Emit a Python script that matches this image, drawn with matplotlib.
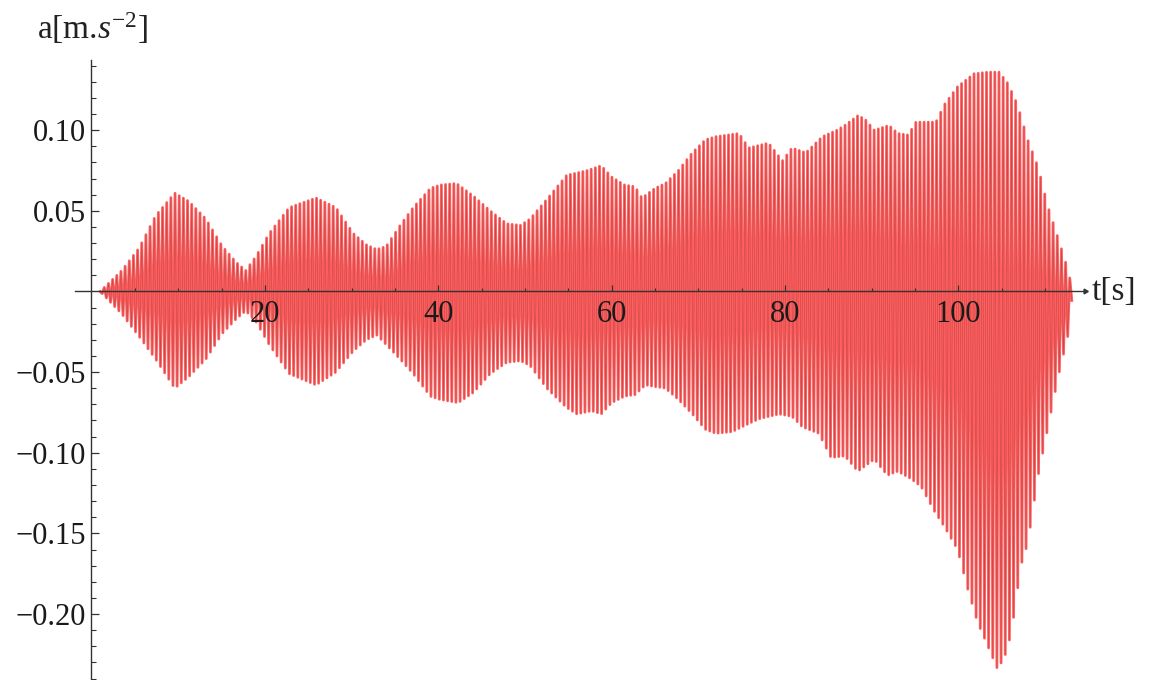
import numpy as np
import matplotlib
matplotlib.use("Agg")
import matplotlib.pyplot as plt

# Envelope of the acceleration record: time [s] and upper / lower peak values [m/s^2]
t_upper = [1.0, 3.5, 5.5, 7.4, 9.6, 11.2, 13.2, 15.1, 16.7, 17.8, 19.0, 20.5, 22.8,
           25.9, 28.2, 30.2, 31.7, 32.9, 34.0, 35.6, 37.1, 39.1, 40.2, 42.1, 44.1,
           46.0, 47.9, 49.5, 50.6, 52.5, 54.8, 57.2, 58.8, 60.0, 61.5, 62.7, 63.5,
           65.0, 66.2, 67.7, 69.3, 70.8, 72.0, 74.7, 75.8, 78.1, 79.7, 80.8, 82.4,
           84.3, 86.0, 86.9, 88.4, 89.2, 90.3, 92.0, 93.0, 94.2, 95.1, 97.4, 98.4,
           99.9, 101.8, 103.4, 104.7, 105.7, 106.8, 108.0, 109.2, 110.3, 111.5,
           112.6, 113.2]
a_upper = [0.0, 0.013, 0.027, 0.047, 0.061, 0.056, 0.045, 0.028, 0.018, 0.013,
           0.022, 0.036, 0.052, 0.058, 0.052, 0.036, 0.029, 0.026, 0.028, 0.041,
           0.052, 0.064, 0.066, 0.067, 0.059, 0.050, 0.042, 0.041, 0.045, 0.057,
           0.072, 0.075, 0.078, 0.071, 0.066, 0.065, 0.058, 0.064, 0.067, 0.075,
           0.086, 0.094, 0.096, 0.098, 0.089, 0.092, 0.081, 0.089, 0.086, 0.096,
           0.100, 0.103, 0.109, 0.107, 0.100, 0.103, 0.098, 0.097, 0.105, 0.105,
           0.116, 0.127, 0.135, 0.136, 0.136, 0.129, 0.116, 0.094, 0.077, 0.053,
           0.033, 0.014, 0.0]

t_lower = [1.0, 3.5, 5.5, 7.4, 9.6, 11.2, 13.2, 15.1, 16.7, 17.8, 19.0, 20.5, 22.8,
           25.9, 28.2, 30.2, 31.7, 32.9, 34.0, 35.6, 37.1, 39.1, 40.2, 42.3, 44.1,
           46.0, 47.9, 49.5, 50.6, 52.5, 54.8, 56.0, 57.7, 58.8, 60.0, 61.5, 62.7,
           63.9, 65.0, 66.2, 67.7, 69.3, 70.8, 72.0, 73.9, 75.4, 77.0, 79.3, 80.8,
           82.0, 83.9, 85.3, 86.9, 88.4, 90.3, 91.8, 93.0, 94.5, 95.7, 97.2, 98.4,
           99.9, 101.1, 102.2, 103.4, 104.5, 105.3, 106.1, 107.2, 108.0, 109.2,
           110.3, 111.5, 112.6, 113.2]
a_lower = [0.0, -0.014, -0.028, -0.042, -0.060, -0.053, -0.042, -0.026, -0.017,
           -0.012, -0.019, -0.033, -0.051, -0.058, -0.050, -0.037, -0.030, -0.027,
           -0.033, -0.042, -0.051, -0.065, -0.067, -0.069, -0.0625, -0.051, -0.044,
           -0.043, -0.046, -0.060, -0.072, -0.076, -0.074, -0.076, -0.069, -0.065,
           -0.064, -0.058, -0.059, -0.060, -0.067, -0.076, -0.0855, -0.088, -0.087,
           -0.083, -0.079, -0.076, -0.0775, -0.084, -0.088, -0.103, -0.102, -0.1115,
           -0.104, -0.114, -0.1115, -0.116, -0.121, -0.136, -0.146, -0.160, -0.185,
           -0.205, -0.220, -0.234, -0.227, -0.212, -0.170, -0.156, -0.114, -0.085,
           -0.053, -0.028, 0.0]

# Oscillation period of the record [s]
period = 0.48

x_major = [20, 40, 60, 80, 100]
y_major = [-0.20, -0.15, -0.10, -0.05, 0.05, 0.10]

# Peak-to-peak trace: alternate upper and lower extremes every half period
t_start, t_end = t_upper[0], t_upper[-1]
t_peaks = np.arange(t_start, t_end, period / 2)
up = np.interp(t_peaks, t_upper, a_upper)
lo = np.interp(t_peaks, t_lower, a_lower)
trace = np.where(np.arange(len(t_peaks)) % 2 == 0, up, lo)

plt.rcParams['font.family'] = ['Liberation Serif', 'DejaVu Serif']
plt.rcParams['mathtext.fontset'] = 'custom'
plt.rcParams['mathtext.rm'] = 'Liberation Serif'
plt.rcParams['mathtext.it'] = 'Liberation Serif:italic'

fig = plt.figure(figsize=(11.51, 6.80), dpi=100)
ax = fig.add_axes([75 / 1151, 0.0, 1010 / 1151, 620 / 680])
ax.set_xlim(-1.9, 114.6)
ax.set_ylim(-0.2409, 0.1435)
ax.set_axisbelow(False)

ax.plot(t_peaks, trace, color='#ff5f5f', lw=2.0, solid_joinstyle='round', zorder=2)
ax.plot(t_peaks, trace, color='#a83838', lw=0.45, alpha=0.6, zorder=2.1)

for side in ('top', 'right'):
    ax.spines[side].set_visible(False)
ax.spines['left'].set_position(('data', 0))
ax.spines['bottom'].set_position(('data', 0))
for side in ('left', 'bottom'):
    ax.spines[side].set_color('#333333')
    ax.spines[side].set_linewidth(1.0)
    ax.spines[side].set_zorder(5)

# arrow head at the end of the time axis
ax.plot([114.6], [0], marker=(3, 0, -90), markersize=4, color='#333333',
        clip_on=False, zorder=6)

ax.set_xticks(x_major)
ax.set_xticklabels([str(v) for v in x_major])
ax.set_xticks([v for v in range(5, 115, 5) if v not in x_major], minor=True)
ax.set_yticks(y_major)
ax.set_yticklabels([f"{v:.2f}".replace('-', '\u2212') for v in y_major])
ax.set_yticks([v / 100 for v in range(-24, 15) if v % 5 != 0], minor=True)

ax.tick_params(axis='x', which='major', direction='in', length=4, width=0.9,
               color='#333333', labelsize=22, pad=6, labelcolor='#1a1a1a')
ax.tick_params(axis='x', which='minor', direction='in', length=2.5, width=0.8,
               color='#333333')
ax.tick_params(axis='y', which='major', direction='in', length=6, width=0.9,
               color='#333333', labelsize=22, pad=4, labelcolor='#1a1a1a')
ax.tick_params(axis='y', which='minor', direction='in', length=3.5, width=0.8,
               color='#333333')

fig.text(37 / 1151, 1 - 28 / 680, r"a[m.$s^{-2}$]", fontsize=24, ha='left',
         va='center', color='#222222')
fig.text(1092 / 1151, 1 - 292 / 680, "t[s]", fontsize=24, ha='left',
         va='center', color='#222222')

fig.savefig("out.png", dpi=100)
